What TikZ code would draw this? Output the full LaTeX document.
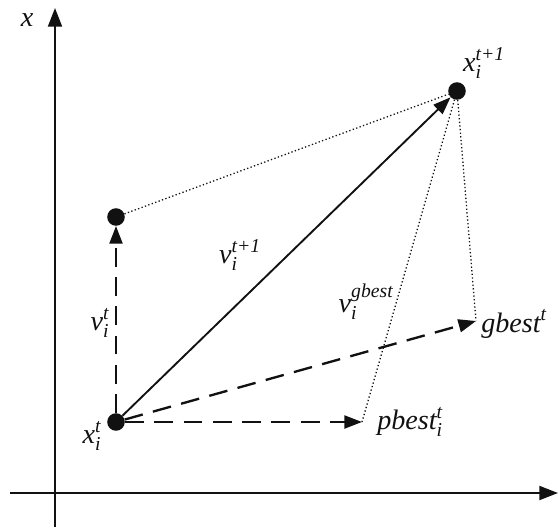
\documentclass[tikz,border=0pt]{standalone}
\usepackage{amsmath}
\usepackage{fontspec}
\setmainfont{Liberation Serif}
\usetikzlibrary{arrows.meta, positioning}
\definecolor{psoink}{HTML}{111111}
\newcommand{\lbl}[3]{$\text{\itshape #1}_{\text{\itshape #2}}^{\text{\itshape #3}}$}
\tikzset{
  axisline/.style={-{Triangle[length=16pt, width=12pt]}, line width=1.6pt, draw=psoink},
  dotpt/.style={circle, fill=psoink, inner sep=0pt, minimum size=15pt},
  velline/.style={-{Triangle[length=15pt, width=11pt]}, line width=2pt, dash pattern=on 16pt off 9pt, draw=psoink},
  moveline/.style={-{Triangle[length=15pt, width=11pt]}, line width=1.6pt, draw=psoink},
  sumline/.style={line width=1.1pt, dotted, draw=psoink},
  vlabel/.style={font=\fontsize{24}{28}\selectfont\itshape, inner sep=1pt, text=psoink}
}
\begin{document}
\begin{tikzpicture}[x=0.03cm, y=-0.03cm]
  \useasboundingbox (0,0) rectangle (558,527);

  % axes
  \coordinate (ybot) at (55,527);
  \coordinate (ytop) at (55,8);
  \coordinate (xleft) at (10,493);
  \coordinate (xright) at (558,493);
  \draw[axisline] (ybot) -- (ytop);
  \draw[axisline] (xleft) -- (xright);
  \node[vlabel] (xaxis) at (27,20) {x};

  % particle positions
  \node[dotpt] (xt) at (116,422) {};
  \node[dotpt] (inert) at (116,217) {};
  \node[dotpt] (xnext) at (457,91) {};
  \coordinate (gb) at (476,321);
  \coordinate (pb) at (362,422);

  % velocity components
  \draw[velline] (xt) -- (inert);
  \draw[velline] (xt) -- (gb);
  \draw[velline] (xt) -- (pb);
  \draw[moveline] (xt) -- (xnext);

  % parallelogram sides
  \draw[sumline] (inert) -- (xnext);
  \draw[sumline] (xnext) -- (pb);
  \draw[sumline] (xnext) -- (gb);

  % labels
  \node[vlabel] (lxt) at (92,436) {\lbl{x}{i}{t}};
  \node[vlabel] (lxnext) at (484,63) {\lbl{x}{i}{t+1}};
  \node[vlabel] (lvt) at (100,323) {\lbl{v}{i}{t}};
  \node[vlabel] (lvnext) at (240,255) {\lbl{v}{i}{t+1}};
  \node[vlabel] (lvg) at (366,302) {\lbl{v}{i}{gbest}};
  \node[vlabel] (lgb) at (514,324) {$\text{\itshape gbest}^{\text{\itshape t}}$};
  \node[vlabel] (lpb) at (410,422) {\lbl{pbest}{i}{t}};
\end{tikzpicture}
\end{document}
